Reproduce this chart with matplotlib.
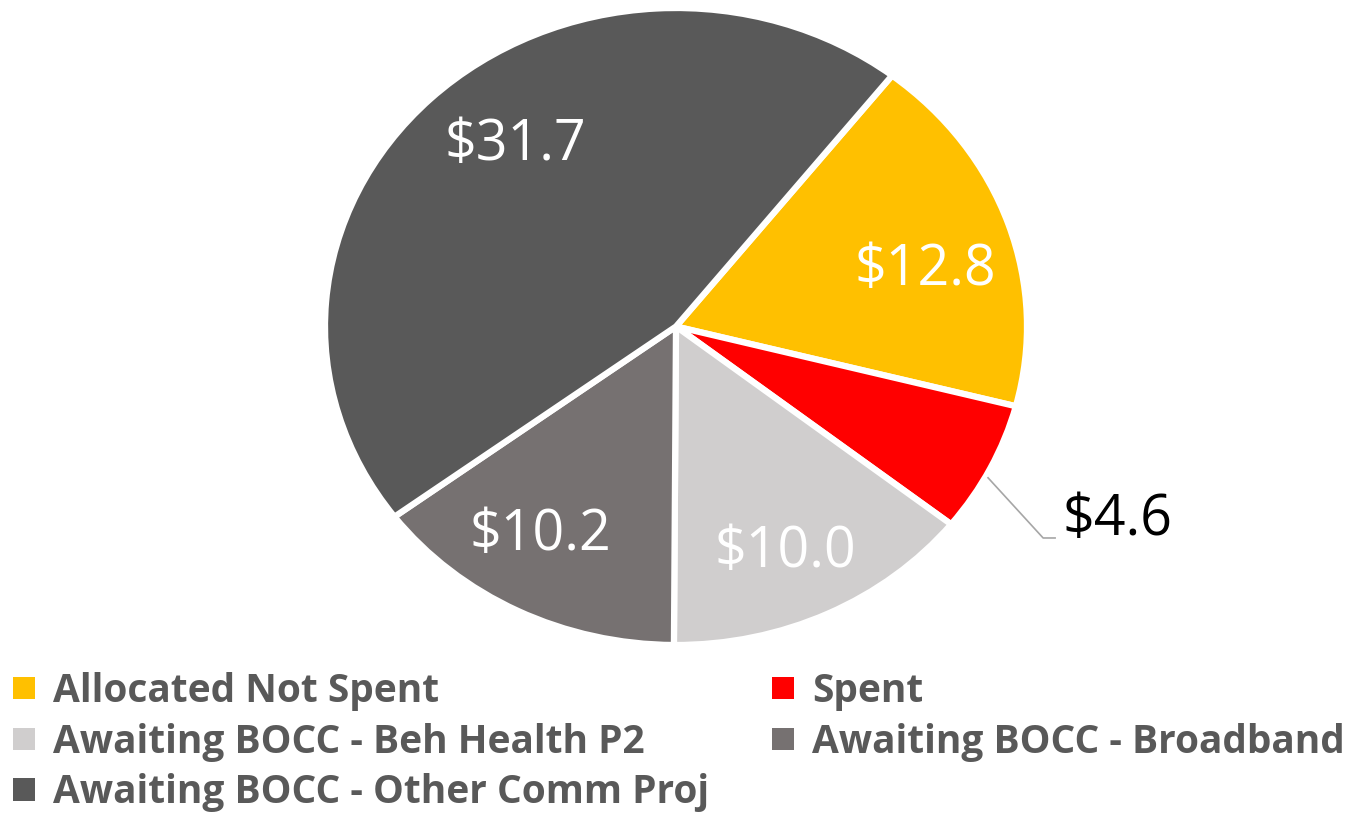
import matplotlib.pyplot as plt
from matplotlib.patches import Patch

# data (in $M)
categories = ["Allocated Not Spent", "Spent", "Awaiting BOCC - Beh Health P2",
              "Awaiting BOCC - Broadband", "Awaiting BOCC - Other Comm Proj"]
values = [12.8, 4.6, 10.0, 10.2, 31.7]
labels = ["$12.8", "$4.6", "$10.0", "$10.2", "$31.7"]
colors = ["#FFC000", "#FF0000", "#D0CECE", "#767171", "#595959"]
label_colors = ["white", "black", "white", "white", "white"]
label_pos = [(0.709, 0.176), (1.10, -0.610), (0.311, -0.711), (-0.387, -0.657), (-0.459, 0.569)]


def main():
    W, H = 1357, 815
    fig = plt.figure(figsize=(W / 100, H / 100), dpi=100)

    # pie drawn in slightly stretched axes (reference is wider than tall)
    ax = fig.add_axes([325 / W, (H - 645) / H, 702 / W, 637 / H])
    wedges, _ = ax.pie(values, colors=colors, startangle=52, counterclock=False,
                       radius=1, wedgeprops=dict(edgecolor="white", linewidth=4.5))
    ax.set_aspect("auto")
    ax.set_xlim(-1, 1)
    ax.set_ylim(-1, 1)
    ax.axis("off")

    for i, (lab, (x, y)) in enumerate(zip(labels, label_pos)):
        ha = "left" if i == 1 else "center"
        ax.text(x, y, lab, ha=ha, va="center", color=label_colors[i],
                fontsize=40, family="Open Sans")

    # leader line for the small slice
    ax.plot([0.889, 1.046, 1.080], [-0.475, -0.664, -0.664], color="#A6A6A6",
            lw=1.2, clip_on=False)

    # legend: two columns, each its own legend so they line up with the reference
    leg_kw = dict(loc="upper left", frameon=False,
                  prop=dict(family="Open Sans", weight="bold", size=28),
                  labelcolor="#595959", handlelength=0.57, handleheight=0.51,
                  handletextpad=0.46, labelspacing=0.3, borderpad=0,
                  borderaxespad=0)
    col1 = [0, 2, 4]
    col2 = [1, 3]
    fig.legend([Patch(facecolor=colors[i], edgecolor="none") for i in col1],
               [categories[i] for i in col1],
               bbox_to_anchor=(13 / W, 1 - 672 / H), **leg_kw)
    fig.legend([Patch(facecolor=colors[i], edgecolor="none") for i in col2],
               [categories[i] for i in col2],
               bbox_to_anchor=(772 / W, 1 - 672 / H), **leg_kw)

    fig.savefig("out.png", dpi=100)


if __name__ == "__main__":
    main()
